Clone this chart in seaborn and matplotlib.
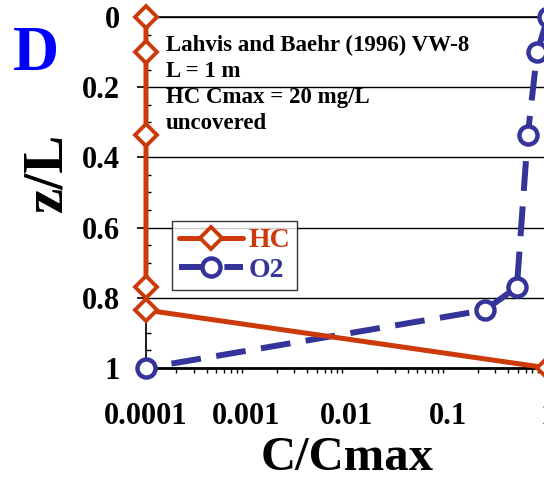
import numpy as np
import pandas as pd
import seaborn as sns
import matplotlib.pyplot as plt
import matplotlib.ticker as tkr

hc_c = [0.0001, 0.0001, 0.0001, 0.0001, 0.0001, 1.0]
hc_z = [0.0, 0.1, 0.335, 0.77, 0.835, 1.0]
o2_c = [1.0, 0.78, 0.63, 0.49, 0.235, 0.0001]
o2_z = [0.0, 0.1, 0.335, 0.77, 0.835, 1.0]

x_ticks = [0.0001, 0.001, 0.01, 0.1, 1]
x_labels = ['0.0001', '0.001', '0.01', '0.1', '1']
y_ticks = [0, 0.2, 0.4, 0.6, 0.8, 1]
y_labels = ['0', '0.2', '0.4', '0.6', '0.8', '1']

hc_col = '#CC3A0A'
o2_col = '#34349A'

sns.set_theme(style='white')
plt.rcParams['font.family'] = ['Liberation Serif', 'DejaVu Serif']
plt.rcParams['font.weight'] = 'bold'
plt.rcParams['text.color'] = 'black'
plt.rcParams['axes.labelcolor'] = 'black'

fig = plt.figure(figsize=(5.44, 4.79), dpi=100)
ax = fig.add_axes([146 / 544, 1 - 368 / 479, 402 / 544, 351 / 479])

df_hc = pd.DataFrame({'c': hc_c, 'z': hc_z})
df_o2 = pd.DataFrame({'c': o2_c, 'z': o2_z})

sns.lineplot(data=df_o2, x='c', y='z', sort=False, estimator=None, ax=ax,
             color=o2_col, lw=4.3, marker='o', ms=13, mfc='white', mec=o2_col,
             mew=3.2, label='O2', clip_on=False, zorder=4)
sns.lineplot(data=df_hc, x='c', y='z', sort=False, estimator=None, ax=ax,
             color=hc_col, lw=3.6, marker='D', ms=11, mfc='white', mec=hc_col,
             mew=2.8, label='HC', clip_on=False, zorder=5)
ax.lines[0].set_dashes((5, 2.6))

ax.set_xscale('log')
ax.set_xlim(0.0001, 1)
ax.set_ylim(1, 0)

ax.xaxis.set_major_locator(tkr.FixedLocator(x_ticks))
ax.xaxis.set_major_formatter(tkr.FixedFormatter(x_labels))
ax.xaxis.set_minor_locator(tkr.LogLocator(base=10, subs=np.arange(2, 10)))
ax.xaxis.set_minor_formatter(tkr.NullFormatter())
ax.yaxis.set_major_locator(tkr.FixedLocator(y_ticks))
ax.yaxis.set_major_formatter(tkr.FixedFormatter(y_labels))
ax.yaxis.set_minor_locator(tkr.MultipleLocator(0.05))

ax.tick_params(axis='x', which='major', direction='inout', length=8.6, width=1.2,
               pad=20.5, labelsize=22, colors='black')
ax.tick_params(axis='x', which='minor', direction='out', length=3.6, width=1, bottom=True,
               colors='black')
ax.tick_params(axis='y', which='major', direction='out', length=6.5, width=1.2,
               pad=12, labelsize=22, colors='black', left=True)
ax.tick_params(axis='y', which='minor', direction='in', length=3.5, width=1, left=True,
               colors='black')

ax.yaxis.grid(True, which='major', color='black', lw=1)
ax.xaxis.grid(False)
for s in ['top', 'left', 'bottom']:
    ax.spines[s].set_color('black')
ax.spines['bottom'].set_linewidth(2)
ax.spines['top'].set_linewidth(1.2)
ax.spines['right'].set_visible(False)

ax.set_xlabel('C/Cmax', fontsize=35, fontweight='bold', labelpad=3)
ax.set_ylabel('z/L', fontsize=41, fontweight='bold')
ax.yaxis.set_label_coords((73 - 146) / 402, (368 - 172) / 351)

h, l = ax.get_legend_handles_labels()
leg = ax.legend([h[1], h[0]], [l[1], l[0]], loc='upper left',
                bbox_to_anchor=(172 / 544, 1 - 221 / 479), bbox_transform=fig.transFigure,
                borderaxespad=0, fontsize=20, frameon=True, fancybox=False,
                handlelength=2.3, borderpad=0.25, labelspacing=0.15, handletextpad=0.2)
leg.get_frame().set_edgecolor('black')
leg.get_frame().set_linewidth(1)
for t, c in zip(leg.get_texts(), [hc_col, o2_col]):
    t.set_color(c)

ax.text(0.05, 0.948, 'Lahvis and Baehr (1996) VW-8\nL = 1 m\nHC Cmax = 20 mg/L\nuncovered',
        transform=ax.transAxes, fontsize=16.5, fontweight='bold', va='top', ha='left',
        linespacing=1.3, zorder=6)

fig.text(13 / 544, 1 - 70 / 479, 'D', color='#0000FF', fontsize=46, fontweight='bold')

fig.savefig('out.png', dpi=100)
